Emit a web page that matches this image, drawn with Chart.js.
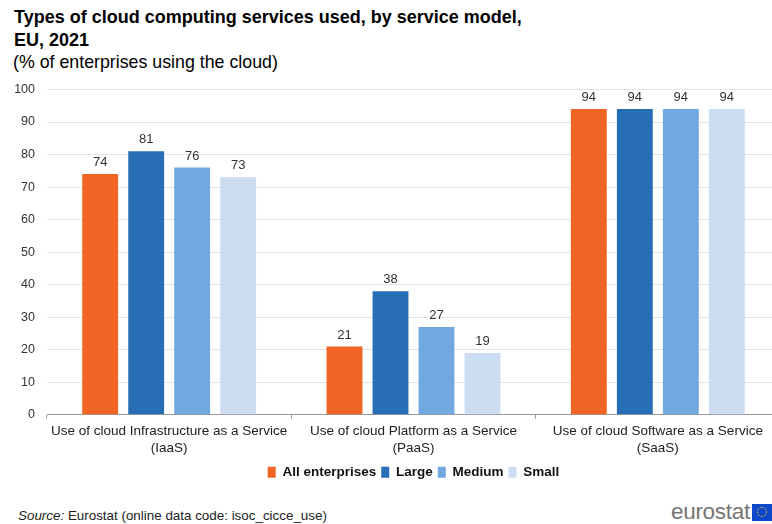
<!DOCTYPE html>
<html>
<head>
<meta charset="utf-8">
<script src="https://cdn.jsdelivr.net/npm/chart.js@4/dist/chart.umd.min.js"></script>
<style>
  html, body { margin:0; padding:0; width:772px; height:524px; overflow:hidden; background:#fff; }
  body { position:relative; font-family:"Liberation Sans", Arial, sans-serif; color:#000; }
  #title { position:absolute; left:14px; top:6px; font-weight:bold; font-size:18px; line-height:23px; color:#000; }
  #subtitle { position:absolute; left:13px; top:52px; font-size:17.8px; line-height:20px; color:#000; }
  #wrap { position:absolute; left:0; top:70px; width:780px; height:419px; }
  #source { position:absolute; left:18px; top:508px; font-family:"Liberation Sans", Arial, sans-serif; font-size:13.4px; color:#222; }
  #logo { position:absolute; left:671px; top:501px; height:22px; display:flex; align-items:center; }
  #logo span { font-family:"Liberation Sans", Arial, sans-serif; font-size:22.5px; color:#757575; letter-spacing:-0.3px; }
  #logo div { width:20px; height:17px; background:#0e47cb; margin-left:2px; position:relative; }
  #logo div i { position:absolute; left:5px; top:3px; width:8px; height:8px; border:1.5px dotted #ffd617; border-radius:50%; }
</style>
</head>
<body>
<div id="title">Types of cloud computing services used, by service model,<br>EU, 2021</div>
<div id="subtitle">(% of enterprises using the cloud)</div>
<div id="wrap"><canvas id="c"></canvas></div>
<div id="source"><i>Source:</i> Eurostat (online data code: isoc_cicce_use)</div>
<div id="logo"><span>eurostat</span><div><i></i></div></div>
<script>
const categories = [
  ["Use of cloud Infrastructure as a Service", "(IaaS)"],
  ["Use of cloud Platform as a Service", "(PaaS)"],
  ["Use of cloud Software as a Service", "(SaaS)"]
];
const seriesNames = ["All enterprises", "Large", "Medium", "Small"];
const allEnterprises = [74, 21, 94];
const large = [81, 38, 94];
const medium = [76, 27, 94];
const small = [73, 19, 94];
const yTicks = [0, 10, 20, 30, 40, 50, 60, 70, 80, 90, 100];

const colors = ["#f06424", "#286eb4", "#71a8df", "#ccddf2"];
const seriesValues = [allEnterprises, large, medium, small];

const valueLabels = {
  id: 'valueLabels',
  afterDatasetsDraw(chart) {
    const ctx = chart.ctx;
    ctx.save();
    ctx.font = '13px "Liberation Sans", Arial, sans-serif';
    ctx.fillStyle = '#333';
    ctx.textAlign = 'center';
    ctx.textBaseline = 'bottom';
    chart.data.datasets.forEach((ds, i) => {
      chart.getDatasetMeta(i).data.forEach((bar, j) => {
        ctx.fillText(String(ds.data[j]), bar.x, bar.y - 5);
      });
    });
    ctx.restore();
  }
};

const legendShift = {
  id: 'legendShift',
  afterLayout(chart) {
    const lg = chart.legend;
    if (!lg) return;
    const shift = (chart.chartArea.left + chart.chartArea.right) / 2 - (lg.left + lg.right) / 2;
    lg.left += shift; lg.right += shift;
  }
};

new Chart(document.getElementById('c'), {
  type: 'bar',
  data: {
    labels: categories,
    datasets: seriesNames.map((n, i) => ({
      label: n,
      data: seriesValues[i],
      backgroundColor: colors[i],
      borderWidth: 0,
      categoryPercentage: 0.753,
      barPercentage: 0.78
    }))
  },
  options: {
    responsive: true,
    maintainAspectRatio: false,
    animation: false,
    layout: { padding: { top: 9, left: 0, right: 0, bottom: 0 } },
    plugins: {
      title: { display: false },
      tooltip: { enabled: false },
      legend: {
        position: 'bottom',
        labels: {
          boxWidth: 8, boxHeight: 11, padding: 5,
          color: '#111',
          font: { family: '"Liberation Sans", Arial, sans-serif', size: 13.5, weight: 'bold' }
        }
      }
    },
    scales: {
      x: {
        grid: { display: true, drawOnChartArea: false, drawTicks: true, tickLength: 4, color: '#999', offset: true },
        border: { display: true, color: '#999', width: 1 },
        ticks: {
          color: '#222', padding: 4, maxRotation: 0, autoSkip: false,
          font: { family: '"Liberation Sans", Arial, sans-serif', size: 13.5, lineHeight: 1.25 }
        }
      },
      y: {
        min: 0, max: 100,
        afterBuildTicks(scale) { scale.ticks = yTicks.map(v => ({ value: v })); },
        afterFit(scale) { scale.width = 47; },
        grid: { color: '#e3e3e3', drawTicks: false },
        border: { display: false },
        ticks: {
          color: '#333', padding: 12,
          font: { family: '"Liberation Sans", Arial, sans-serif', size: 12.5 }
        }
      }
    }
  },
  plugins: [valueLabels, legendShift]
});
</script>
</body>
</html>
